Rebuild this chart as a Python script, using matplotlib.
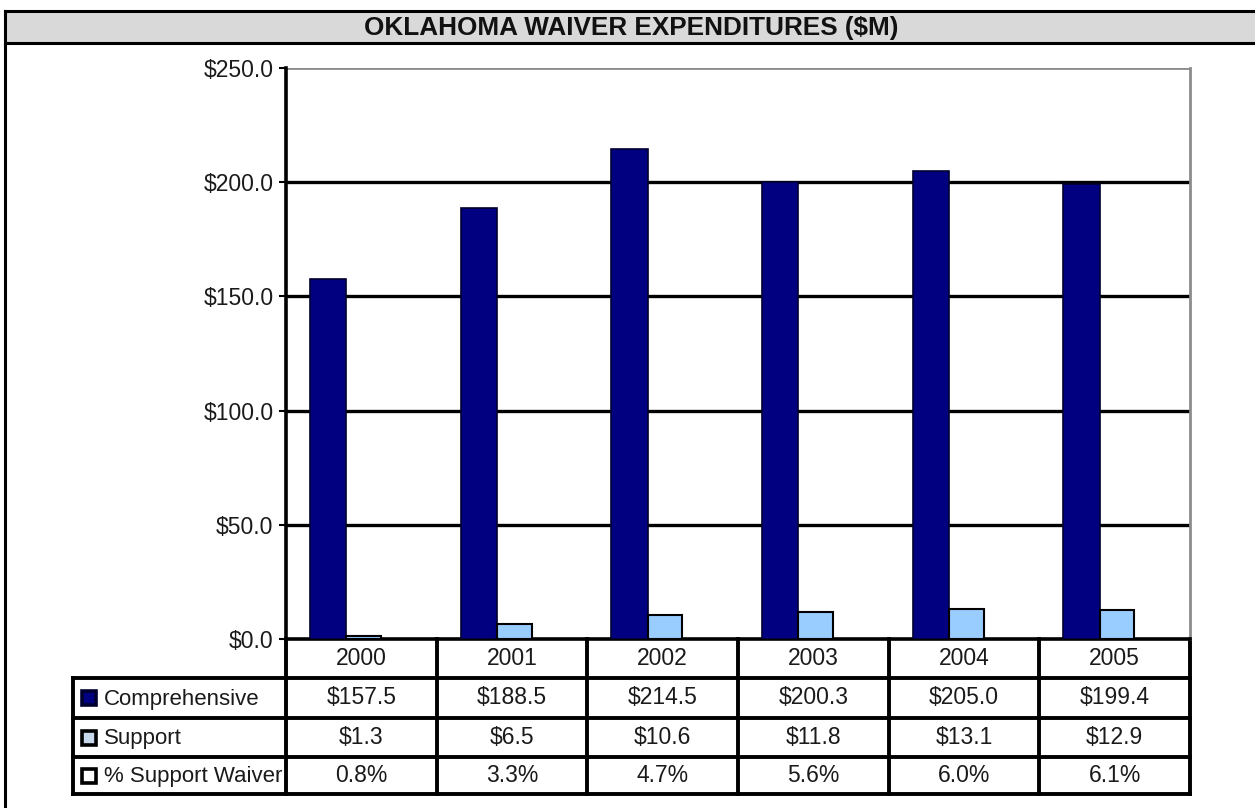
import matplotlib
matplotlib.use("Agg")
import matplotlib.pyplot as plt
from matplotlib.patches import Rectangle
import numpy as np

plt.rcParams['font.family'] = ['Liberation Sans', 'DejaVu Sans']

title = "OKLAHOMA WAIVER EXPENDITURES ($M)"
years = ["2000", "2001", "2002", "2003", "2004", "2005"]
comprehensive = [157.5, 188.5, 214.5, 200.3, 205.0, 199.4]
support = [1.3, 6.5, 10.6, 11.8, 13.1, 12.9]
pct_support = [0.8, 3.3, 4.7, 5.6, 6.0, 6.1]
series_names = ["Comprehensive", "Support", "% Support Waiver"]
yticks = [0, 50, 100, 150, 200, 250]

NAVY = "#000080"
LIGHT = "#99ccff"
TXT = "#1a1a1a"

W, H = 1255, 808
fig = plt.figure(figsize=(W / 100, H / 100), dpi=100)
fig.patch.set_facecolor("white")

# pixel-space overlay for frame, title bar and data table
ov = fig.add_axes([0, 0, 1, 1], zorder=0)
ov.set_xlim(0, W)
ov.set_ylim(H, 0)
ov.axis("off")

# plot area geometry (pixels)
PL, PR, PT, PB = 286, 1190, 68, 639

ax = fig.add_axes([PL / W, 1 - PB / H, (PR - PL) / W, (PB - PT) / H], zorder=2)
ax.set_facecolor("none")

x = np.arange(len(years))
ax.bar(x - 0.22, comprehensive, width=0.24, color=NAVY, edgecolor="#000030",
       linewidth=1.2, zorder=3)
ax.bar(x + 0.015, support, width=0.23, color=LIGHT, edgecolor="black",
       linewidth=1.5, zorder=3)

ax.set_xlim(-0.5, len(years) - 0.5)
ax.set_ylim(0, 250)
ax.set_yticks(yticks)
ax.set_yticklabels([f"${v:.1f}" for v in yticks], fontsize=16.5, color=TXT)
ax.tick_params(axis="y", length=5, width=1.5, color="black", pad=4)
ax.set_xticks([])
for v in yticks[1:-1]:
    ax.axhline(v, color="black", lw=2.4, zorder=1)
ax.axhline(250, color="#8c8c8c", lw=2.0, zorder=1)
ax.spines["left"].set_color("black")
ax.spines["left"].set_linewidth(2.6)
ax.spines["bottom"].set_color("black")
ax.spines["bottom"].set_linewidth(2.6)
ax.spines["right"].set_color("#8c8c8c")
ax.spines["right"].set_linewidth(2.0)
ax.spines["top"].set_visible(False)

# outer frame and title bar
ov.add_patch(Rectangle((5, 11), W, 32, facecolor="#d9d9d9", edgecolor="none"))
ov.plot([5, W], [11, 11], color="black", lw=2.2)
ov.plot([5, W], [43, 43], color="black", lw=2.2)
ov.plot([5, 5], [11, H], color="black", lw=2.2)
ov.text(631, 28.5, title, ha="center", va="center", fontsize=18.8,
        fontweight="bold", color="#111111")

# data table
col_edges = np.linspace(PL, PR, len(years) + 1)
row_edges = [PB, 678, 718, 757, 794]
TL = 73
lw_t = 2.8
ov.plot([PL, PL], [PB, row_edges[-1]], color="black", lw=lw_t)
for xe in col_edges[1:]:
    ov.plot([xe, xe], [PB, row_edges[-1]], color="black", lw=lw_t)
for ye in row_edges[1:]:
    ov.plot([TL, PR], [ye, ye], color="black", lw=lw_t)
ov.plot([TL, TL], [row_edges[1], row_edges[-1]], color="black", lw=lw_t)

cx = (col_edges[:-1] + col_edges[1:]) / 2
rc = [(row_edges[i] + row_edges[i + 1]) / 2 for i in range(4)]
fs = 16.5
for i, yr in enumerate(years):
    ov.text(cx[i], rc[0], yr, ha="center", va="center", fontsize=fs, color=TXT)
    ov.text(cx[i], rc[1], f"${comprehensive[i]:.1f}", ha="center", va="center",
            fontsize=fs, color=TXT)
    ov.text(cx[i], rc[2], f"${support[i]:.1f}", ha="center", va="center",
            fontsize=fs, color=TXT)
    ov.text(cx[i], rc[3], f"{pct_support[i]:.1f}%", ha="center", va="center",
            fontsize=fs, color=TXT)

key_faces = [NAVY, "#c8d8ec", "white"]
key_edges = ["#000030", "black", "black"]
for r, (name, fc, ec) in enumerate(zip(series_names, key_faces, key_edges)):
    yc = rc[r + 1]
    ov.add_patch(Rectangle((82, yc - 7), 14, 14, facecolor=fc, edgecolor=ec,
                           linewidth=2.6, zorder=3))
    t = ov.text(104, yc + 1, name, ha="left", va="center", fontsize=16,
                color=TXT)
    t.set_clip_path(Rectangle((TL, row_edges[r + 1]), PL - TL - 2,
                              row_edges[r + 2] - row_edges[r + 1],
                              transform=ov.transData))

fig.savefig("out.png", dpi=100, facecolor="white")
